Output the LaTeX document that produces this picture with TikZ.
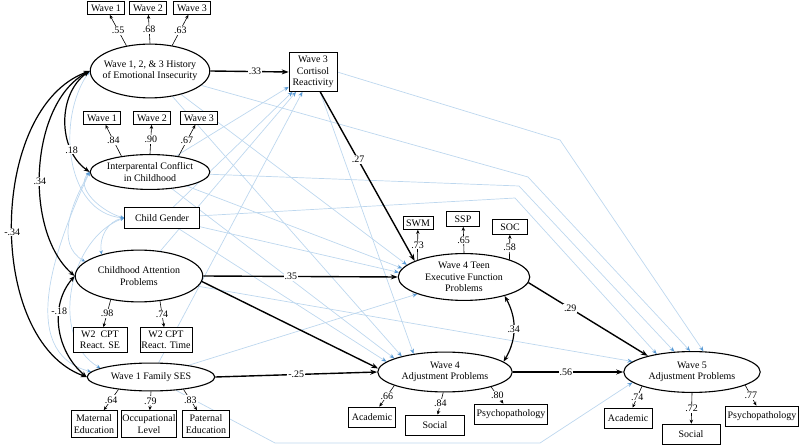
\documentclass[tikz,border=0pt]{standalone}
\usepackage{fontspec}
\setmainfont{Liberation Serif}
\usepackage{tikz}
\usetikzlibrary{shapes.geometric,arrows.meta,positioning,calc,backgrounds}

\definecolor{lineblue}{RGB}{189,215,238}
\definecolor{tipblue}{RGB}{91,155,213}

\tikzset{
  latent/.style={ellipse, draw, fill=white, line width=1.1pt, align=center, inner sep=-12pt},
  observed/.style={rectangle, draw, fill=white, line width=0.8pt, align=center, inner sep=1pt},
  loading/.style={line width=0.6pt, -{Stealth[length=4pt,width=3.5pt]}},
  regpath/.style={line width=1.4pt, -{Stealth[length=7pt,width=5pt]}},
  covpath/.style={line width=1.2pt, {Stealth[length=6pt,width=4.5pt]}-{Stealth[length=6pt,width=4.5pt]}},
  bluepath/.style={draw=lineblue, line width=0.7pt, -{Stealth[length=5pt,width=4pt,color=tipblue]}},
  bluecov/.style={draw=lineblue, line width=0.7pt, {Stealth[length=4pt,width=3.5pt,color=tipblue]}-{Stealth[length=4pt,width=3.5pt,color=tipblue]}},
  coef/.style={fill=white, inner sep=1pt},
}

\begin{document}
\begin{tikzpicture}[x=1bp, y=1bp, font=\fontsize{10}{11.5}\selectfont]
    \useasboundingbox (0,0) rectangle (800,-447);

    % Latent variables
    \node[latent, minimum width=120, minimum height=54] (emo) at (150,-71) {Wave 1, 2, \& 3 History\\of Emotional Insecurity};
    \node[latent, minimum width=120, minimum height=35] (ipc) at (150,-172) {Interparental Conflict\\in Childhood};
    \node[latent, minimum width=128, minimum height=52] (att) at (139,-276) {Childhood Attention\\Problems};
    \node[latent, minimum width=128, minimum height=28] (ses) at (151,-377) {Wave 1 Family SES};
    \node[latent, minimum width=132, minimum height=47] (ef) at (464,-277) {Wave 4 Teen\\Executive Function\\Problems};
    \node[latent, minimum width=135, minimum height=40] (adj4) at (445,-372) {Wave 4\\Adjustment Problems};
    \node[latent, minimum width=137, minimum height=41] (adj5) at (692,-372) {Wave 5\\Adjustment Problems};

    % Observed variables
    \node[observed, minimum width=75, minimum height=21] (gen) at (162,-218) {Child Gender};
    \node[observed, minimum width=48, minimum height=39] (cort) at (313,-72) {Wave 3\\Cortisol\\Reactivity};

    % Indicators
    \node[observed, minimum width=37, minimum height=13] (emo1) at (106,-8) {Wave 1};
    \node[observed, minimum width=37, minimum height=13] (emo2) at (148,-8) {Wave 2};
    \node[observed, minimum width=37, minimum height=13] (emo3) at (192,-8) {Wave 3};
    \node[observed, minimum width=37, minimum height=13] (ipc1) at (102,-118) {Wave 1};
    \node[observed, minimum width=37, minimum height=13] (ipc2) at (152,-118) {Wave 2};
    \node[observed, minimum width=37, minimum height=13] (ipc3) at (199,-118) {Wave 3};
    \node[observed, minimum width=54, minimum height=25] (cptse) at (100,-340) {W2 \ CPT\\React. SE};
    \node[observed, minimum width=52, minimum height=25] (cptrt) at (166,-340) {W2 CPT\\React. Time};
    \node[observed, minimum width=46, minimum height=27] (mated) at (94,-424) {Maternal\\Education};
    \node[observed, minimum width=56, minimum height=27] (occ) at (149,-424) {Occupational\\Level};
    \node[observed, minimum width=47, minimum height=27] (pated) at (206,-424) {Paternal\\Education};
    \node[observed, minimum width=30, minimum height=13] (swm) at (418,-223) {SWM};
    \node[observed, minimum width=33, minimum height=15] (ssp) at (463,-219) {SSP};
    \node[observed, minimum width=35, minimum height=15] (soc) at (510,-227) {SOC};
    \node[observed, minimum width=47, minimum height=20] (acad4) at (372,-417) {Academic};
    \node[observed, minimum width=59, minimum height=20] (soc4) at (435,-425) {Social};
    \node[observed, minimum width=73, minimum height=20] (psy4) at (511,-414) {Psychopathology};
    \node[observed, minimum width=48, minimum height=20] (acad5) at (628,-418) {Academic};
    \node[observed, minimum width=58, minimum height=20] (soc5) at (691,-434) {Social};
    \node[observed, minimum width=73, minimum height=20] (psy5) at (762,-416) {Psychopathology};

    % Loadings
    \foreach \ang/\ind/\val in {133/emo1/.55, 90/emo2/.68, 49/emo3/.63}
        \draw[loading] (emo.\ang) -- node[coef]{\val} (\ind);
    \foreach \ang/\ind/\val in {151/ipc1/.84, 90/ipc2/.90, 29/ipc3/.67}
        \draw[loading] (ipc.\ang) -- node[coef]{\val} (\ind);
    \foreach \ang/\ind/\val in {220/cptse/.98, 310/cptrt/.74}
        \draw[loading] (att.\ang) -- node[coef]{\val} (\ind);
    \foreach \ang/\ind/\val in {201/mated/.64, 270/occ/.79, 339/pated/.83}
        \draw[loading] (ses.\ang) -- node[coef]{\val} (\ind);
    \foreach \ang/\ind/\val in {160/swm/.73, 90/ssp/.65, 21/soc/.58}
        \draw[loading] (ef.\ang) -- node[coef]{\val} (\ind);
    \foreach \ang/\ind/\val in {195/acad4/.66, 265/soc4/.84, 342/psy4/.80}
        \draw[loading] (adj4.\ang) -- node[coef]{\val} (\ind);
    \foreach \ang/\ind/\val in {196/acad5/.74, 270/soc5/.72, 346/psy5/.77}
        \draw[loading] (adj5.\ang) -- node[coef]{\val} (\ind);

    % Non-significant paths
    \begin{pgfonlayer}{background}
        \coordinate (k1) at (560,-140);
        \coordinate (k2) at (528,-177);
        \coordinate (k3) at (519,-186);
        \coordinate (k4) at (515,-198);
        \coordinate (k5) at (275,-443);
        \coordinate (k6) at (540,-443);
        \foreach \src in {ipc, gen, att, ses} \draw[bluepath] (\src) -- (cort);
        \foreach \src/\ang in {emo/168, ipc/172, gen/176, ses/200} \draw[bluepath] (\src) -- (ef.\ang);
        \foreach \src/\ang in {emo/160, ipc/165, gen/170, cort/150} \draw[bluepath] (\src) -- (adj4.\ang);
        \draw[bluepath] (cort.east) -- (k1) -- (adj5.61);
        \draw[bluepath] (emo) -- (k2) -- (adj5.95);
        \draw[bluepath] (ipc) -- (k3) -- (adj5.131);
        \draw[bluepath] (gen) -- (k4) -- (adj5.153);
        \draw[bluepath] (att) -- (adj5.170);
        \draw[bluepath] (ses) -- (k5) -- (k6) -- (adj5.190);
        % covariances
        \draw[bluecov] (emo.west) to[out=235, in=175] (gen.west);
        \draw[bluecov] (ipc.west) to[out=225, in=165] (gen.west);
        \draw[bluecov] (ipc.west) to[out=240, in=150] (att.165);
        \draw[bluecov] (ipc.west) to[out=245, in=165] (ses.175);
        \draw[bluecov] (gen.west) to[out=190, in=100] (att.150);
        \draw[bluecov] (gen.west) to[out=200, in=150] (ses.170);
    \end{pgfonlayer}

    % Significant paths
    \draw[regpath] (emo.east) -- node[coef, pos=0.57]{.33} (cort.west);
    \draw[regpath] (cort.-70) -- node[coef, pos=0.4]{.27} (ef.162);
    \draw[regpath] (att.east) -- node[coef, pos=0.45]{.35} (ef.west);
    \draw[regpath] (att.-5) -- (adj4.177);
    \draw[regpath] (ses.east) -- node[coef]{-.25} (adj4.west);
    \draw[regpath] (ef.-5) -- node[coef, pos=0.35]{.29} (adj5.160);
    \draw[regpath] (adj4.east) -- node[coef, pos=0.48]{.56} (adj5.west);
    \draw[covpath] (ef.335) to[bend left=30] node[coef]{.34} (adj4.10);

    % Covariances
    \draw[covpath] (emo.west) to[out=215, in=145] node[coef, pos=0.75]{.18} (ipc.west);
    \draw[covpath] (emo.west) to[out=208, in=139, looseness=0.85] node[coef, pos=0.55]{.34} (att.west);
    \draw[covpath] (emo.west) to[out=200, in=160, looseness=0.9] node[coef, pos=0.52]{-.34} (ses.west);
    \draw[covpath] (att.west) to[out=229, in=140] node[coef, pos=0.35]{-.18} (ses.west);
\end{tikzpicture}
\end{document}
